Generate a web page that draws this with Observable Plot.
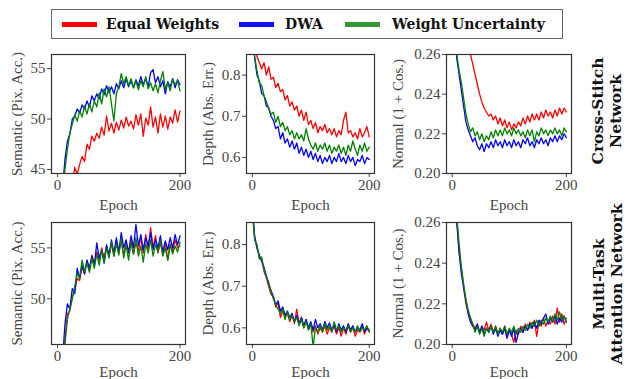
<!DOCTYPE html>
<html><head><meta charset="utf-8">
<script src="https://cdn.jsdelivr.net/npm/d3@7"></script>
<script src="https://cdn.jsdelivr.net/npm/@observablehq/plot@0.6"></script>
<style>
body{margin:0;background:#fff;}
#root{position:relative;width:629px;height:379px;overflow:hidden;font-family:"Liberation Serif",serif;}
.legend{position:absolute;left:51px;top:9px;width:510px;height:28px;border:1.5px solid #666;box-sizing:content-box;}
.sw{position:absolute;top:12px;width:35px;height:4.5px;}
.lt{position:absolute;top:0;line-height:28px;font-family:"DejaVu Serif",serif;font-size:14px;font-weight:bold;color:#111;white-space:nowrap;}
.row{position:absolute;font-family:"DejaVu Serif",serif;font-size:15.5px;font-weight:bold;color:#111;text-align:center;line-height:18px;white-space:nowrap;transform:translate(-50%,-50%) rotate(-90deg);}
</style></head>
<body><div id="root"></div>
<script>
const seriesNames = ["Equal Weights", "DWA", "Weight Uncertainty"];
const lineColors = ["#ff0000", "#0000ff", "#008000"];
const legendColors = ["#ff0000", "#1010ff", "#339933"];
const epochs = [0,4,8,12,16,20,24,28,32,36,40,44,48,52,56,60,64,68,72,76,80,84,88,92,96,100,104,108,112,116,120,124,128,132,136,140,144,148,152,156,160,164,168,172,176,180,184,188,192,196,200];
const xTicks = [0, 200];

// Cross-Stitch Network
const csSemEW = [30,34,37,39,40.5,42,43.5,45.2,44.5,45.5,46.3,45.8,47.5,47,48.3,47.8,48.6,48.1,49.2,48.4,50.3,48.8,49.6,48.6,49.7,48.9,49.9,49.1,50.2,49.3,49.8,49,50.4,49.4,50.5,48.3,50.1,49.4,51.2,49.2,50.2,48.6,50.5,49.2,50.3,49,50.2,49.6,50.9,49.7,50.8];
const csSemDWA = [30,38,43,46,47.8,48.5,50,50.3,51,50.6,51.4,51,51.8,51.2,52.3,51.8,52.5,52,53,52.4,53.3,52.6,53.2,52.5,53.5,53,53.8,53.1,54,53.2,53.8,53.1,53.9,53.3,54.2,53.4,54,53.2,54.6,54.9,53.6,54.2,53.2,53.8,52.5,53.7,53.2,54,53.1,53.9,53.4];
const csSemWU = [32,38,42,45,47,48.6,49.5,50.4,49.8,50.8,50.2,51.3,50.5,51.5,50.7,51.8,51.2,52.6,51.5,53,52.2,53.2,51.5,49.8,52.5,53.2,54.5,53.5,54.2,53.3,54,53.1,53.8,52.9,53.8,53.2,54.2,53,53.6,52.8,53.5,52.6,53.8,54.7,53,53.6,52.8,54,53.4,53.8,52.8];

const csDepEW = [0.95,0.88,0.845,0.83,0.815,0.83,0.80,0.82,0.79,0.795,0.77,0.78,0.76,0.765,0.74,0.75,0.725,0.735,0.715,0.725,0.70,0.715,0.69,0.71,0.68,0.69,0.67,0.685,0.66,0.675,0.665,0.68,0.66,0.67,0.655,0.67,0.65,0.665,0.655,0.69,0.71,0.66,0.665,0.65,0.66,0.645,0.67,0.65,0.66,0.675,0.65];
const csDepDWA = [0.92,0.84,0.80,0.785,0.755,0.75,0.725,0.72,0.70,0.69,0.67,0.675,0.645,0.66,0.635,0.645,0.625,0.64,0.62,0.635,0.61,0.625,0.605,0.62,0.60,0.615,0.595,0.61,0.59,0.605,0.585,0.60,0.59,0.605,0.585,0.60,0.59,0.61,0.59,0.60,0.585,0.605,0.59,0.60,0.58,0.595,0.59,0.605,0.585,0.60,0.595];
const csDepWU = [0.92,0.845,0.81,0.78,0.775,0.75,0.735,0.72,0.705,0.71,0.685,0.70,0.675,0.685,0.665,0.675,0.655,0.665,0.645,0.66,0.645,0.655,0.64,0.67,0.645,0.63,0.62,0.635,0.615,0.63,0.62,0.635,0.615,0.63,0.61,0.625,0.615,0.63,0.61,0.625,0.605,0.63,0.615,0.64,0.62,0.605,0.63,0.615,0.635,0.615,0.625];

const csNorEW = [0.32,0.31,0.30,0.29,0.285,0.28,0.272,0.265,0.26,0.255,0.25,0.245,0.24,0.236,0.233,0.231,0.229,0.23,0.227,0.229,0.225,0.228,0.224,0.227,0.223,0.226,0.222,0.225,0.223,0.226,0.224,0.228,0.225,0.229,0.226,0.23,0.227,0.23,0.227,0.231,0.228,0.232,0.229,0.231,0.228,0.232,0.229,0.233,0.23,0.233,0.231];
const csNorDWA = [0.30,0.275,0.258,0.25,0.242,0.234,0.226,0.222,0.219,0.216,0.218,0.214,0.212,0.215,0.211,0.215,0.213,0.216,0.213,0.217,0.214,0.216,0.213,0.217,0.214,0.216,0.213,0.217,0.214,0.216,0.213,0.217,0.215,0.218,0.214,0.216,0.213,0.217,0.215,0.218,0.215,0.217,0.214,0.218,0.216,0.219,0.216,0.219,0.217,0.22,0.218];
const csNorWU = [0.30,0.278,0.26,0.252,0.246,0.238,0.23,0.225,0.221,0.223,0.219,0.221,0.217,0.22,0.216,0.219,0.217,0.221,0.218,0.222,0.219,0.222,0.219,0.223,0.22,0.222,0.219,0.223,0.22,0.222,0.219,0.221,0.218,0.222,0.219,0.222,0.216,0.221,0.219,0.223,0.22,0.222,0.219,0.222,0.22,0.223,0.22,0.222,0.219,0.223,0.221];

// Multi-Task Attention Network
const mtSemEW = [28,36,42,46,48.5,48.8,50.2,50.8,52,51.8,53.2,52.4,53.8,52.8,54.3,53.5,54.6,53.8,55,54,55.2,54.3,55.4,54.2,55.6,54.5,55.8,54.3,55.5,54.6,55.8,54.4,55.5,54.7,56,54.5,56.3,54.8,57,55,56.2,54.5,55.5,54.3,55.6,53.8,55.4,54.6,55.8,55,55.2];
const mtSemDWA = [30,38,44,47.5,49.5,49,51,50.5,53,52,53.3,52.5,53.8,53,54.2,53.2,55.5,54,54.8,53.5,55.3,54.2,55.8,54.5,56,54.6,56.5,55,55.8,54.5,56.2,55,57.3,55.2,56.3,54.8,56,55.2,56.5,54.8,55.8,55,56.2,54.6,55.7,54.8,56,55,56.3,55.3,56.2];
const mtSemWU = [28,35,41,45.5,48,49,50,51.2,52.5,52,53.8,52.7,53.5,52.6,54,53,54.4,53.3,54.8,53.6,55,54,55.6,54.2,55.4,54.3,55.9,54,55.3,53.8,55.5,54.4,56,54.2,55.2,53.6,55.4,54.5,55.8,54.2,55.3,54.6,55.8,54.2,55,53.8,55.3,54.4,55.2,54.6,55.6];

const mtDepEW = [0.88,0.815,0.795,0.77,0.765,0.735,0.72,0.70,0.68,0.675,0.65,0.66,0.625,0.64,0.625,0.635,0.615,0.63,0.61,0.645,0.61,0.625,0.60,0.62,0.595,0.61,0.59,0.605,0.585,0.60,0.59,0.605,0.585,0.60,0.59,0.605,0.585,0.60,0.58,0.60,0.585,0.605,0.59,0.60,0.58,0.595,0.59,0.605,0.585,0.60,0.59];
const mtDepDWA = [0.89,0.82,0.79,0.775,0.76,0.745,0.725,0.705,0.69,0.675,0.655,0.665,0.64,0.65,0.63,0.64,0.625,0.635,0.615,0.63,0.61,0.625,0.605,0.62,0.60,0.615,0.595,0.62,0.60,0.61,0.595,0.615,0.60,0.612,0.595,0.608,0.59,0.61,0.595,0.605,0.59,0.61,0.595,0.605,0.59,0.60,0.595,0.61,0.59,0.60,0.595];
const mtDepWU = [0.88,0.81,0.80,0.765,0.77,0.74,0.72,0.71,0.685,0.67,0.655,0.645,0.635,0.645,0.62,0.64,0.62,0.63,0.615,0.625,0.605,0.62,0.60,0.615,0.595,0.61,0.555,0.60,0.59,0.605,0.59,0.61,0.595,0.605,0.59,0.615,0.595,0.605,0.59,0.60,0.595,0.605,0.59,0.60,0.59,0.605,0.59,0.60,0.595,0.605,0.59];

const mtNorEW = [0.30,0.28,0.262,0.245,0.238,0.228,0.22,0.216,0.213,0.21,0.208,0.21,0.206,0.209,0.207,0.211,0.207,0.21,0.206,0.209,0.205,0.208,0.205,0.209,0.204,0.207,0.205,0.201,0.207,0.205,0.209,0.206,0.21,0.207,0.211,0.208,0.212,0.204,0.211,0.209,0.213,0.209,0.212,0.21,0.214,0.21,0.218,0.211,0.215,0.21,0.213];
const mtNorDWA = [0.30,0.278,0.26,0.246,0.235,0.228,0.222,0.215,0.211,0.209,0.207,0.21,0.206,0.209,0.205,0.208,0.206,0.209,0.205,0.208,0.204,0.207,0.205,0.208,0.203,0.207,0.204,0.208,0.201,0.206,0.208,0.206,0.209,0.207,0.21,0.208,0.211,0.208,0.212,0.21,0.213,0.215,0.21,0.213,0.211,0.214,0.21,0.213,0.211,0.214,0.211];
const mtNorWU = [0.30,0.28,0.263,0.25,0.238,0.23,0.222,0.217,0.213,0.21,0.206,0.209,0.205,0.208,0.204,0.208,0.206,0.209,0.206,0.209,0.205,0.208,0.206,0.209,0.205,0.208,0.206,0.209,0.205,0.208,0.206,0.209,0.207,0.21,0.208,0.211,0.209,0.212,0.209,0.212,0.21,0.213,0.211,0.214,0.211,0.215,0.212,0.216,0.212,0.214,0.211];

const yLabels = ["Semantic (Pix. Acc.)", "Depth (Abs. Err.)", "Normal (1 + Cos.)"];
const semTicksCS = [45, 50, 55];
const semTicksMT = [50, 55];
const depTicks = [0.6, 0.7, 0.8];
const norTicks = [0.20, 0.22, 0.24, 0.26];
const rowLabels = [["Cross-Stitch", "Network"], ["Multi-Task", "Attention Network"]];

const root = document.getElementById("root");

// legend
const leg = document.createElement("div");
leg.className = "legend";
const swLeft = [10, 187, 293];
const txLeft = [54, 233, 340];
seriesNames.forEach((s, k) => {
  const sw = document.createElement("div");
  sw.className = "sw"; sw.style.left = swLeft[k] + "px"; sw.style.background = legendColors[k];
  leg.appendChild(sw);
  const t = document.createElement("div");
  t.className = "lt"; t.style.left = txLeft[k] + "px"; t.textContent = s;
  leg.appendChild(t);
});
root.appendChild(leg);

function panel(cfg) {
  const data = [];
  seriesNames.forEach((s, k) => cfg.values[k].forEach((v, i) => data.push({epoch: epochs[i], value: v, series: s})));
  const svg = Plot.plot({
    width: cfg.width, height: cfg.height,
    marginLeft: cfg.ml, marginRight: 5, marginTop: cfg.mt, marginBottom: cfg.mb,
    style: {fontFamily: "Liberation Serif", fontSize: "14px", color: "#444", background: "transparent", overflow: "visible"},
    x: {domain: [-10, 209]},
    y: {domain: cfg.yDomain},
    color: {domain: seriesNames, range: lineColors},
    marks: [
      Plot.lineY(data, {x: "epoch", y: "value", z: "series", stroke: "series", strokeWidth: 1.3, clip: true}),
      Plot.axisX({ticks: xTicks, tickSize: 4, tickPadding: 2, label: "Epoch", labelAnchor: "center", labelArrow: "none", labelOffset: cfg.xlo, fontSize: 15}),
      Plot.axisY({ticks: cfg.yTicks, tickSize: 4, tickPadding: 2, tickFormat: cfg.fmt, label: cfg.yLabel, labelAnchor: "center", labelArrow: "none", labelOffset: cfg.ylo, fontSize: 15}),
      Plot.frame({stroke: "#333", strokeWidth: 1.2})
    ]
  });
  svg.style.position = "absolute";
  svg.style.left = cfg.left + "px";
  svg.style.top = cfg.top + "px";
  root.appendChild(svg);
}

const cols = [
  {left: 0, ml: 51, fw: 134, ylo: 40},
  {left: 195, ml: 51, fw: 128, ylo: 44},
  {left: 390, ml: 56, fw: 125, ylo: 54}
];
const rows = [
  {top: 40, mt: 14, fh: 119, mb: 40, xlo: 36},
  {top: 210, mt: 12, fh: 122, mb: 35, xlo: 32}
];
const fmtInt = d => String(d);
const fmt1 = d3.format(".1f");
const fmt2 = d3.format(".2f");
const panels = [
  [ {values: [csSemEW, csSemDWA, csSemWU], yDomain: [44.6, 56.4], yTicks: semTicksCS, fmt: fmtInt},
    {values: [csDepEW, csDepDWA, csDepWU], yDomain: [0.561, 0.85], yTicks: depTicks, fmt: fmt1},
    {values: [csNorEW, csNorDWA, csNorWU], yDomain: [0.20, 0.26], yTicks: norTicks, fmt: fmt2} ],
  [ {values: [mtSemEW, mtSemDWA, mtSemWU], yDomain: [45.5, 57.5], yTicks: semTicksMT, fmt: fmtInt},
    {values: [mtDepEW, mtDepDWA, mtDepWU], yDomain: [0.56, 0.853], yTicks: depTicks, fmt: fmt1},
    {values: [mtNorEW, mtNorDWA, mtNorWU], yDomain: [0.20, 0.26], yTicks: norTicks, fmt: fmt2} ]
];
rows.forEach((r, ri) => cols.forEach((c, ci) => {
  const p = panels[ri][ci];
  panel(Object.assign({}, p, {
    left: c.left, top: r.top, ml: c.ml, mt: r.mt, mb: r.mb,
    width: c.ml + c.fw + 5, height: r.mt + r.fh + r.mb,
    xlo: r.xlo, ylo: c.ylo, yLabel: yLabels[ci]
  }));
}));

// row labels
const rowCenters = [{x: 607, y: 111}, {x: 608, y: 284}];
rowLabels.forEach((lines, ri) => {
  const d = document.createElement("div");
  d.className = "row";
  d.style.left = rowCenters[ri].x + "px";
  d.style.top = rowCenters[ri].y + "px";
  d.innerHTML = lines.join("<br>");
  root.appendChild(d);
});
</script>
</body></html>
